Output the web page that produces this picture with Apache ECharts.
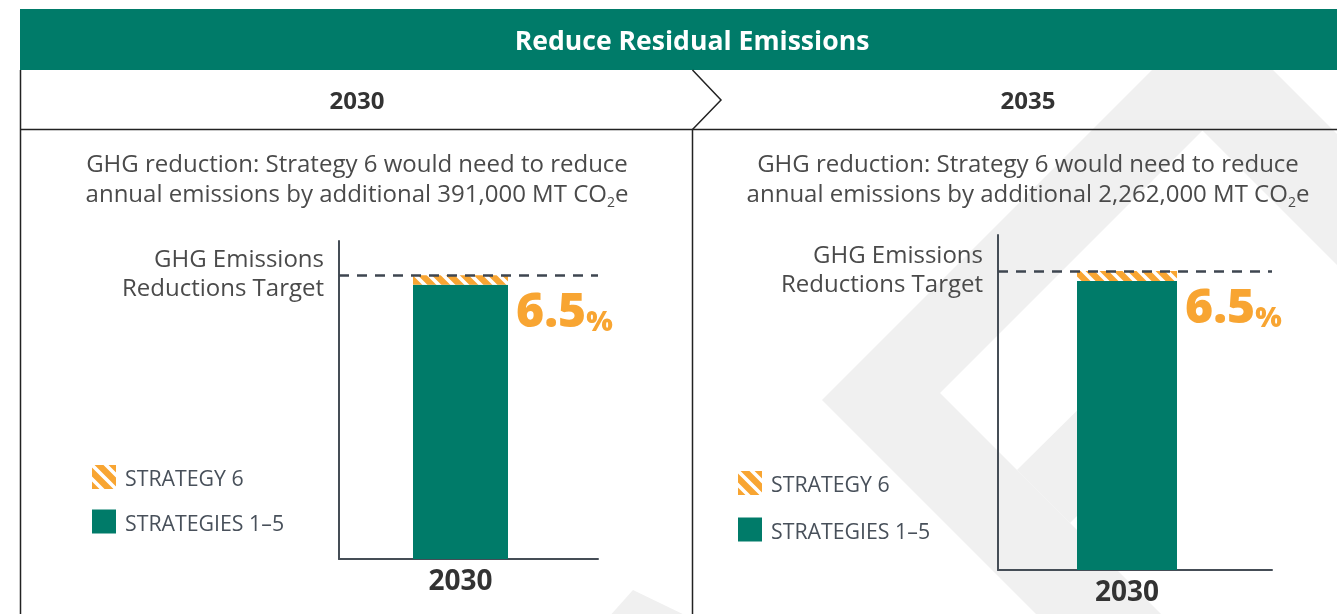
<!DOCTYPE html>
<html>
<head>
<meta charset="utf-8">
<title>Reduce Residual Emissions</title>
<script src="https://cdn.jsdelivr.net/npm/echarts@6/dist/echarts.min.js"></script>
<style>
  html, body { margin: 0; padding: 0; background: #ffffff; }
  #chart { width: 1337px; height: 614px; }
</style>
</head>
<body>
<div id="chart"></div>
<script>
// ---- data ----
const heading = 'Reduce Residual Emissions';
const panelYears = ['2030', '2035'];
const barCategories = ['2030'];
const seriesNames = ['STRATEGY 6', 'STRATEGIES 1–5'];
const strategies1to5 = [188, 188];   // reductions from strategies 1–5 (bar units)
const strategy6 = [6.5, 6.5];        // additional share from strategy 6 (%)
const additionalTonnes = ['391,000', '2,262,000'];
const targetText = 'GHG Emissions\nReductions Target';

// ---- styling ----
const FONT = '"Open Sans", "Noto Sans", sans-serif';
const TEAL = '#007b69';
const ORANGE = '#f8a532';
const AXIS = '#454d56';
const TEXT = '#4a4a4a';
const WATERMARK = '#f0f0f0';
const Y_MAX = 218;

// panel layout (pixels)
const panels = [
  { grid: { left: 339, top: 241, width: 259, height: 318 }, barGridWidth: 243, barWidth: 95,
    centerX: 357, legend: { left: 92, top: 465, gap: 19 }, targetRight: 324, targetTop: 246 },
  { grid: { left: 998, top: 235, width: 274, height: 335 }, barGridWidth: 258, barWidth: 100,
    centerX: 1028, legend: { left: 738, top: 471, gap: 21 }, targetRight: 983, targetTop: 242 }
];

// diagonal orange/white hatch for the Strategy 6 segment
function hatchPattern() {
  const size = 14;
  const c = document.createElement('canvas');
  c.width = size; c.height = size;
  const ctx = c.getContext('2d');
  ctx.fillStyle = ORANGE;
  ctx.fillRect(0, 0, size, size);
  ctx.strokeStyle = '#ffffff';
  ctx.lineWidth = 3.6;
  ctx.beginPath();
  for (let k = -1; k <= 1; k++) {
    ctx.moveTo(-2, k * size - 2);
    ctx.lineTo(size + 2, k * size + size + 2);
  }
  ctx.stroke();
  return { image: c, repeat: 'repeat' };
}
const HATCH = hatchPattern();

const grids = [], xAxes = [], yAxes = [], series = [], titles = [], legends = [];

titles.push({
  text: heading, left: 692, top: 26, textAlign: 'center', padding: 0,
  textStyle: { color: '#ffffff', fontSize: 26.6, fontWeight: 'bold', fontFamily: FONT, lineHeight: 32 }
});

panels.forEach((p, i) => {
  const target = strategies1to5[i] + strategy6[i];

  // axis frame grid and bar grid share the same vertical scale
  grids.push({ left: p.grid.left, top: p.grid.top, width: p.grid.width, height: p.grid.height });
  grids.push({ left: p.grid.left, top: p.grid.top, width: p.barGridWidth, height: p.grid.height });

  xAxes.push({
    gridIndex: 2 * i, type: 'category', data: barCategories,
    axisLine: { show: true, lineStyle: { color: AXIS, width: 2 } },
    axisTick: { show: false }, axisLabel: { show: false }
  });
  xAxes.push({
    gridIndex: 2 * i + 1, type: 'category', data: barCategories,
    axisLine: { show: false }, axisTick: { show: false },
    axisLabel: { show: true, margin: 9, fontSize: 28, fontWeight: 'bold', color: '#333333', fontFamily: FONT }
  });
  yAxes.push({
    gridIndex: 2 * i, type: 'value', min: 0, max: Y_MAX,
    axisLine: { show: true, lineStyle: { color: AXIS, width: 2 } },
    axisTick: { show: false }, axisLabel: { show: false }, splitLine: { show: false }
  });
  yAxes.push({
    gridIndex: 2 * i + 1, type: 'value', min: 0, max: Y_MAX,
    axisLine: { show: false }, axisTick: { show: false }, axisLabel: { show: false }, splitLine: { show: false }
  });

  // reductions target as a dashed line across the frame
  series.push({
    type: 'line', xAxisIndex: 2 * i, yAxisIndex: 2 * i, data: [target],
    symbol: 'none', lineStyle: { opacity: 0 }, silent: true,
    markLine: {
      silent: true, symbol: 'none', label: { show: false },
      lineStyle: { type: [10, 8], color: '#3e4650', width: 2.5 },
      data: [{ yAxis: target }]
    }
  });

  series.push({
    type: 'bar', name: seriesNames[1], xAxisIndex: 2 * i + 1, yAxisIndex: 2 * i + 1,
    stack: 'panel' + i, barWidth: p.barWidth, data: [strategies1to5[i]],
    itemStyle: { color: TEAL }, emphasis: { disabled: true }
  });
  series.push({
    type: 'bar', name: seriesNames[0], xAxisIndex: 2 * i + 1, yAxisIndex: 2 * i + 1,
    stack: 'panel' + i, barWidth: p.barWidth, data: [strategy6[i]],
    itemStyle: { color: HATCH }, emphasis: { disabled: true },
    label: {
      show: true, position: 'right', distance: 8, offset: [0, 33],
      formatter: (params) => '{v|' + params.value + '}{p|%}',
      rich: {
        v: { fontSize: 48, fontWeight: 800, color: ORANGE, fontFamily: FONT, lineHeight: 48, verticalAlign: 'bottom' },
        p: { fontSize: 28, fontWeight: 800, color: ORANGE, fontFamily: FONT, lineHeight: 36, verticalAlign: 'bottom' }
      }
    }
  });

  titles.push({
    text: panelYears[i], left: p.centerX, top: 88, textAlign: 'center', padding: 0,
    textStyle: { color: '#333333', fontSize: 24, fontWeight: 'bold', fontFamily: FONT, lineHeight: 28 }
  });
  titles.push({
    text: 'GHG reduction: Strategy 6 would need to reduce\nannual emissions by additional ' +
          additionalTonnes[i] + ' MT CO{sub|2}e',
    left: p.centerX, top: 150, textAlign: 'center', padding: 0,
    textStyle: {
      color: TEXT, fontSize: 24, fontWeight: 'normal', fontFamily: FONT, lineHeight: 30,
      rich: { sub: { fontSize: 14, color: TEXT, fontFamily: FONT, lineHeight: 12, verticalAlign: 'bottom' } }
    }
  });
  titles.push({
    text: targetText, left: p.targetRight, top: p.targetTop, textAlign: 'right', padding: 0,
    textStyle: { color: TEXT, fontSize: 24, fontWeight: 'normal', fontFamily: FONT, lineHeight: 29, align: 'right' }
  });

  legends.push({
    data: seriesNames, orient: 'vertical', left: p.legend.left, top: p.legend.top,
    itemWidth: 24, itemHeight: 24, itemGap: p.legend.gap, padding: 0, icon: 'rect',
    selectedMode: false, itemStyle: { borderWidth: 0 },
    formatter: (name) => '{t|' + name + '}',
    textStyle: {
      fontSize: 21.3, color: '#48505a', fontFamily: FONT,
      rich: { t: { fontSize: 21.3, color: '#48505a', fontFamily: FONT, padding: [6, 0, 0, 4] } }
    }
  });
});

// background watermark, header band and panel rules
const line = (pts, w) => ({
  type: 'polyline', z: 1, silent: true, shape: { points: pts },
  style: { stroke: '#222222', lineWidth: w || 1.5, fill: null }
});
const graphics = [
  { type: 'polygon', z: -5, silent: true, style: { fill: WATERMARK },
    shape: { points: [[822, 400], [1212.5, 9.5], [1400, 197], [1400, 328], [1202.5, 130.5], [940, 393], [1247, 700], [1122, 700]] } },
  { type: 'polygon', z: -5, silent: true, style: { fill: WATERMARK },
    shape: { points: [[1017, 470], [1110, 378], [1110, 483], [1070, 523]] } },
  { type: 'polygon', z: -5, silent: true, style: { fill: WATERMARK },
    shape: { points: [[608, 618], [633, 590], [691, 618]] } },
  { type: 'rect', z: 1, silent: true, shape: { x: 20, y: 9, width: 1317, height: 61 }, style: { fill: TEAL } },
  line([[20.5, 70], [20.5, 614]]),
  line([[20, 129.5], [1337, 129.5]]),
  line([[692.5, 70], [721, 100], [692.5, 129.5]]),
  line([[692.5, 129.5], [692.5, 614]])
];

const chart = echarts.init(document.getElementById('chart'), null, { renderer: 'canvas' });
chart.setOption({
  animation: false,
  backgroundColor: '#ffffff',
  title: titles,
  legend: legends,
  grid: grids,
  xAxis: xAxes,
  yAxis: yAxes,
  series: series,
  graphic: { elements: graphics }
});
</script>
</body>
</html>
